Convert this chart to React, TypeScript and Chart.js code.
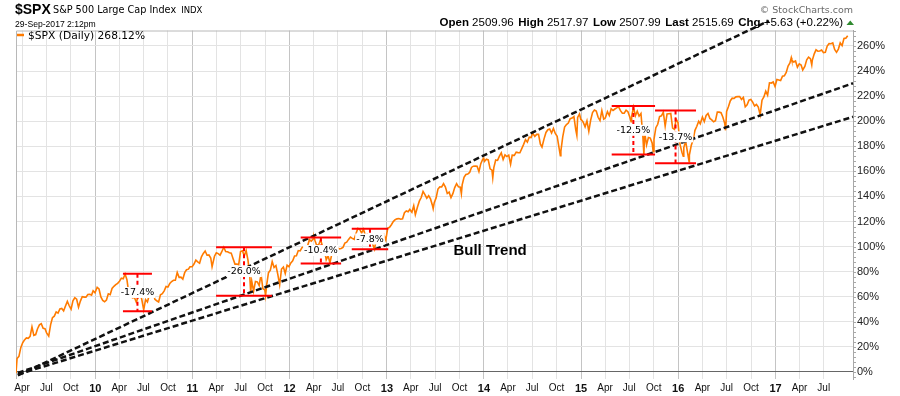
import React, { useEffect, useRef } from "react";
import { Chart, registerables } from "chart.js";

Chart.register(...registerables);

// ---------- data ----------
const START_DATE = "2009-03-09";
const AXIS_END_DATE = "2017-10-19";
const Y_MIN = -5.6;
const Y_MAX = 272.3;

// weekly points (% change since 9-Mar-2009)
const dates2009 = ["03-09","03-13","03-20","03-27","04-03","04-09","04-17","04-24","05-01","05-08","05-15","05-22","05-29","06-05","06-12","06-19","06-26","07-02","07-10","07-17","07-24","07-31","08-07","08-14","08-21","08-28","09-04","09-11","09-18","09-25","10-02","10-09","10-16","10-23","10-30","11-06","11-13","11-20","11-27","12-04","12-11","12-18","12-24","12-31"];
const pct2009 = [-1.0,10.7,12.5,19.4,23.3,25.3,27.2,26.8,28.4,36.0,29.2,29.8,34.5,37.6,38.5,34.8,34.5,31.2,28.6,37.6,43.3,44.5,47.9,46.9,50.2,50.6,48.7,52.6,56.3,52.8,50.0,56.8,59.2,58.0,51.6,56.5,60.0,59.7,59.7,61.8,61.9,61.3,64.8,63.2];

const dates2010 = ["01-08","01-15","01-22","01-29","02-05","02-12","02-19","02-26","03-05","03-12","03-19","03-26","04-02","04-09","04-16","04-23","04-30","05-07","05-14","05-21","05-28","06-04","06-11","06-18","06-25","07-02","07-09","07-16","07-23","07-30","08-06","08-13","08-20","08-27","09-03","09-10","09-17","09-24","10-01","10-08","10-15","10-22","10-29","11-05","11-12","11-19","11-26","12-03","12-10","12-17","12-23","12-31"];
const pct2010 = [67.5,66.2,59.8,57.1,56.0,57.4,62.3,61.6,66.6,68.3,69.7,70.7,72.4,74.8,74.4,78.1,73.6,62.6,66.2,59.2,59.4,55.8,59.7,63.5,57.6,49.6,57.7,55.8,61.4,61.2,64.1,57.9,56.8,55.8,61.6,62.4,64.7,68.1,67.7,70.5,72.1,73.1,73.1,79.4,75.5,75.6,74.0,79.2,81.5,82.0,83.9,84.0];

const dates2011 = ["01-07","01-14","01-21","01-28","02-04","02-11","02-18","02-25","03-04","03-11","03-16","03-25","04-01","04-08","04-15","04-21","04-29","05-06","05-13","05-20","05-27","06-03","06-10","06-17","06-24","07-01","07-08","07-15","07-22","07-29","08-05","08-08","08-12","08-19","08-26","09-02","09-09","09-16","09-23","09-30","10-03","10-07","10-14","10-21","10-28","11-04","11-11","11-18","11-25","12-02","12-09","12-16","12-23","12-30"];
const pct2011 = [86.1,89.2,87.8,86.8,91.8,94.5,96.5,93.1,93.3,90.9,83.9,92.3,95.0,94.4,93.1,95.7,99.5,96.1,95.8,95.1,94.8,90.3,86.0,86.1,85.6,96.0,96.6,92.6,96.8,89.1,75.5,63.8,72.5,64.4,72.2,71.8,68.9,77.9,66.3,65.6,60.9,69.1,79.2,81.2,88.0,83.4,84.9,77.9,69.5,82.1,83.7,78.5,85.2,84.0];

const dates2012 = ["01-06","01-13","01-20","01-27","02-03","02-10","02-17","02-24","03-02","03-09","03-16","03-23","03-30","04-02","04-06","04-13","04-20","04-27","05-04","05-11","05-18","05-25","06-01","06-08","06-15","06-22","06-29","07-06","07-13","07-20","07-27","08-03","08-10","08-17","08-24","08-31","09-07","09-14","09-21","09-28","10-05","10-12","10-19","10-26","11-02","11-09","11-15","11-23","11-30","12-07","12-14","12-21","12-28"];
const pct2012 = [87.0,88.6,92.5,92.6,96.8,96.5,99.2,99.9,100.4,100.6,105.5,104.4,106.1,107.6,104.6,100.5,101.7,105.4,100.3,98.0,89.5,92.8,87.0,94.0,96.5,95.4,99.3,98.2,98.5,99.4,102.8,103.5,105.7,107.5,106.5,105.8,110.4,114.5,113.7,110.8,113.8,109.0,109.7,106.6,106.9,101.9,98.0,106.2,107.2,107.5,106.8,109.3,105.2];

const dates2013 = ["01-04","01-11","01-18","01-25","02-01","02-08","02-15","02-22","03-01","03-08","03-15","03-22","03-28","04-05","04-12","04-18","04-26","05-03","05-10","05-17","05-24","05-31","06-07","06-14","06-21","06-24","06-28","07-05","07-12","07-19","07-26","08-02","08-09","08-16","08-23","08-30","09-06","09-13","09-20","09-27","10-04","10-08","10-11","10-18","10-25","11-01","11-08","11-15","11-22","11-29","12-06","12-13","12-20","12-27","12-31"];
const pct2013 = [114.6,115.4,117.4,119.9,121.4,122.1,122.4,121.8,122.2,127.0,128.4,127.8,129.6,127.3,132.5,125.5,131.5,136.2,139.1,144.0,141.4,138.6,140.5,138.0,133.0,130.2,135.0,138.8,145.9,147.6,147.5,150.2,147.5,142.3,143.4,139.0,142.2,147.0,150.2,147.6,147.4,142.2,149.2,155.3,157.5,157.8,159.1,163.1,164.1,164.2,164.1,159.8,166.1,169.5,170.5];

const dates2014 = ["01-03","01-10","01-17","01-24","01-31","02-03","02-07","02-14","02-21","02-28","03-07","03-14","03-21","03-28","04-04","04-11","04-17","04-25","05-02","05-09","05-16","05-23","05-30","06-06","06-13","06-20","06-27","07-03","07-11","07-18","07-25","08-01","08-07","08-15","08-22","08-29","09-05","09-12","09-19","09-26","10-03","10-10","10-15","10-17","10-24","10-31","11-07","11-14","11-21","11-28","12-05","12-12","12-16","12-19","12-26","12-31"];
const pct2014 = [168.0,169.6,169.1,162.0,160.9,154.9,163.0,169.0,168.7,172.1,174.8,169.4,173.1,171.8,172.9,165.7,172.9,172.7,175.3,174.9,174.8,178.1,181.5,185.3,183.3,187.2,186.9,190.5,187.9,189.5,189.5,181.7,179.4,186.1,191.0,193.2,193.8,190.5,194.2,190.2,188.0,178.9,172.5,176.1,187.5,195.3,197.3,198.5,202.0,202.5,203.7,193.0,188.7,203.0,205.7,201.3];

const dates2015 = ["01-02","01-09","01-16","01-23","01-30","02-06","02-13","02-20","02-27","03-06","03-13","03-20","03-27","04-02","04-10","04-17","04-24","05-01","05-08","05-15","05-21","05-29","06-05","06-12","06-19","06-26","07-02","07-08","07-10","07-17","07-24","07-31","08-07","08-14","08-21","08-25","08-28","09-04","09-11","09-18","09-25","09-29","10-02","10-09","10-16","10-23","10-30","11-06","11-13","11-20","11-27","12-04","12-11","12-18","12-24","12-31"];
const pct2015 = [201.2,199.2,195.5,200.2,191.9,200.8,206.9,208.8,208.0,203.1,200.5,208.5,201.6,202.5,207.6,204.5,209.9,208.5,209.7,210.6,211.8,208.4,206.3,206.4,208.8,207.5,203.9,199.5,203.9,211.2,204.3,207.9,204.0,206.1,188.4,173.3,191.0,181.1,187.0,186.5,182.6,175.7,185.5,194.8,197.5,203.7,204.3,207.2,196.0,205.7,205.9,206.1,194.5,193.5,201.6,199.1];

const dates2016 = ["01-08","01-15","01-20","01-22","01-29","02-05","02-11","02-12","02-19","02-26","03-04","03-11","03-18","03-24","04-01","04-08","04-15","04-22","04-29","05-06","05-13","05-20","05-27","06-03","06-10","06-17","06-24","06-27","07-01","07-08","07-15","07-22","07-29","08-05","08-12","08-19","08-26","09-02","09-09","09-16","09-23","09-30","10-07","10-14","10-21","10-28","11-04","11-11","11-18","11-25","12-02","12-09","12-16","12-23","12-30"];
const pct2016 = [181.3,175.2,172.1,179.0,183.9,175.1,167.6,172.9,180.6,185.1,192.7,195.9,199.9,197.9,203.3,199.6,204.5,206.1,202.2,201.0,199.5,200.3,207.2,207.2,206.7,203.1,198.1,192.7,207.7,211.7,216.3,218.3,218.1,219.4,219.6,219.6,217.4,219.0,211.4,213.0,216.8,217.3,215.2,212.1,213.3,211.2,205.1,216.7,219.3,223.9,220.7,230.6,230.4,231.3,227.6];

const dates2017 = ["01-06","01-13","01-20","01-27","02-03","02-10","02-17","02-24","03-01","03-03","03-10","03-17","03-24","03-31","04-07","04-13","04-21","04-28","05-05","05-12","05-17","05-19","05-26","06-02","06-09","06-16","06-23","06-30","07-07","07-14","07-21","07-28","08-04","08-11","08-18","08-25","09-01","09-08","09-15","09-22","09-29"];
const pct2017 = [233.2,232.9,232.4,235.8,236.2,238.9,244.0,246.4,250.6,248.7,247.2,248.0,243.0,245.7,244.7,240.8,243.7,248.9,251.1,249.9,244.9,248.5,253.5,256.9,255.8,256.0,256.8,254.6,254.9,259.9,261.8,261.7,262.4,257.2,254.9,257.5,262.4,260.2,265.9,266.2,268.1];

const yearBlocks: [number, string[], number[]][] = [
  [2009, dates2009, pct2009], [2010, dates2010, pct2010], [2011, dates2011, pct2011],
  [2012, dates2012, pct2012], [2013, dates2013, pct2013], [2014, dates2014, pct2014],
  [2015, dates2015, pct2015], [2016, dates2016, pct2016], [2017, dates2017, pct2017],
];

// dashed trend lines (start/end in data units)
const trendStartDates = ["2009-03-16", "2009-03-16", "2009-03-16"];
const trendStartPct = [-2.8, -0.8, -2.0];
const trendEndDates = ["2016-12-07", "2017-10-19", "2017-10-19"];
const trendEndPct = [280.0, 230.2, 203.5];

// drawdown brackets
const ddLabels = ["-17.4%", "-26.0%", "-10.4%", "-7.8%", "-12.5%", "-13.7%"];
const ddStartDates = ["2010-04-15", "2011-03-31", "2012-02-12", "2012-08-22", "2015-04-26", "2015-10-06"];
const ddEndDates = ["2010-08-02", "2011-10-27", "2012-07-13", "2013-01-06", "2015-10-06", "2016-03-08"];
const ddTopPct = [78.3, 99.4, 107.2, 114.3, 212.0, 208.6];
const ddBottomPct = [48.5, 60.8, 86.5, 97.8, 173.4, 166.4];

const bullTrendLabel = "Bull Trend";
const bullTrendDate = "2014-01-24";
const bullTrendPct = 96.6;

const yTickValues = [0, 20, 40, 60, 80, 100, 120, 140, 160, 180, 200, 220, 240, 260];
const quarterMonths = [1, 4, 7, 10];
const monthNames: Record<number, string> = { 4: "Apr", 7: "Jul", 10: "Oct" };
const tickYears = [2009, 2010, 2011, 2012, 2013, 2014, 2015, 2016, 2017];

const headerSymbol = "$SPX";
const headerName = "S&P 500 Large Cap Index";
const headerExchange = "INDX";
const headerTimestamp = "29-Sep-2017 2:12pm";
const legendLabel = "$SPX (Daily) 268.12%";
const copyrightText = "\u00A9 StockCharts.com";
const quoteLabels = ["Open", "High", "Low", "Last", "Chg"];
const quoteValues = ["2509.96", "2517.97", "2507.99", "2515.69", "+5.63 (+0.22%)"];

// ---------- styling ----------
const ORANGE = "#ff7b00";
const SANS = "'Liberation Sans', Arial, sans-serif";
const WIDE = "'DejaVu Sans', Verdana, sans-serif";

const DAY_MS = 86400000;
const dayOf = (s: string) =>
  (Date.parse(s + "T00:00:00Z") - Date.parse(START_DATE + "T00:00:00Z")) / DAY_MS;

const spxPoints: { x: number; y: number }[] = [];
for (const [yr, ds, vs] of yearBlocks) {
  const n = Math.min(ds.length, vs.length);
  for (let i = 0; i < n; i++) spxPoints.push({ x: dayOf(`${yr}-${ds[i]}`), y: vs[i] });
}
const lastDataDay = spxPoints[spxPoints.length - 1].x;

const xTicks: { value: number; label: string; year: boolean }[] = [];
for (const y of tickYears) {
  for (const m of quarterMonths) {
    const v = dayOf(`${y}-${String(m).padStart(2, "0")}-01`);
    if (v < 0 || v > lastDataDay) continue;
    xTicks.push({ value: v, label: m === 1 ? String(y).slice(2) : monthNames[m], year: m === 1 });
  }
}
const xTickMap = new Map(xTicks.map((t) => [t.value, t]));
const isYearTick = (v: number) => !!(xTickMap.get(v) && xTickMap.get(v)!.year);

const decorPlugin = {
  id: "decor",
  beforeDatasetsDraw(chart: any) {
    const { ctx, chartArea: a } = chart;
    ctx.save();
    ctx.strokeStyle = "#b8b8b8";
    ctx.lineWidth = 1;
    ctx.beginPath();
    ctx.moveTo(a.left + 0.5, a.bottom);
    ctx.lineTo(a.left + 0.5, a.top + 0.5);
    ctx.lineTo(a.right, a.top + 0.5);
    ctx.stroke();
    const ys = chart.scales.y;
    ctx.strokeStyle = "#a8a8a8";
    for (let v = -4; v <= Y_MAX; v += 4) {
      const py = Math.round(ys.getPixelForValue(v)) + 0.5;
      ctx.beginPath();
      ctx.moveTo(a.right, py);
      ctx.lineTo(a.right + 3, py);
      ctx.stroke();
    }
    ctx.restore();
  },
  afterDatasetsDraw(chart: any) {
    const { ctx } = chart;
    const xs = chart.scales.x;
    const ys = chart.scales.y;
    ctx.save();

    for (let i = 0; i < ddLabels.length; i++) {
      const x1 = xs.getPixelForValue(dayOf(ddStartDates[i]));
      const x2 = xs.getPixelForValue(dayOf(ddEndDates[i]));
      const yt = ys.getPixelForValue(ddTopPct[i]);
      const yb = ys.getPixelForValue(ddBottomPct[i]);
      const xm = (x1 + x2) / 2;
      ctx.strokeStyle = "#ff0000";
      ctx.lineWidth = 2;
      ctx.setLineDash([]);
      ctx.beginPath();
      ctx.moveTo(x1, yt);
      ctx.lineTo(x2, yt);
      ctx.moveTo(x1, yb);
      ctx.lineTo(x2, yb);
      ctx.stroke();
      ctx.setLineDash([4, 3]);
      ctx.beginPath();
      ctx.moveTo(xm, yt);
      ctx.lineTo(xm, yb);
      ctx.stroke();
      ctx.setLineDash([]);
      const ym = (yt + yb) / 2;
      ctx.font = `9.5px ${WIDE}`;
      const w = ctx.measureText(ddLabels[i]).width;
      ctx.fillStyle = "#ffffff";
      ctx.fillRect(xm - w / 2 - 1, ym - 5.5, w + 2, 11);
      ctx.fillStyle = "#000";
      ctx.textAlign = "center";
      ctx.textBaseline = "middle";
      ctx.fillText(ddLabels[i], xm, ym + 0.5);
    }

    ctx.font = `bold 15px ${SANS}`;
    ctx.fillStyle = "#000";
    ctx.textAlign = "center";
    ctx.textBaseline = "middle";
    ctx.fillText(bullTrendLabel, xs.getPixelForValue(dayOf(bullTrendDate)), ys.getPixelForValue(bullTrendPct));

    // legend
    ctx.strokeStyle = ORANGE;
    ctx.lineWidth = 2.5;
    ctx.beginPath();
    ctx.moveTo(17, 35);
    ctx.lineTo(24, 35);
    ctx.stroke();
    ctx.fillStyle = "#000";
    ctx.textAlign = "left";
    ctx.textBaseline = "alphabetic";
    ctx.font = `10.7px ${WIDE}`;
    ctx.fillText(legendLabel, 28, 39);

    // header left
    ctx.font = `bold 14px ${SANS}`;
    ctx.fillText(headerSymbol, 15, 13.5);
    ctx.font = `9.7px ${WIDE}`;
    ctx.fillText(headerName, 53, 13);
    const nameW = ctx.measureText(headerName).width;
    ctx.font = `8.5px ${WIDE}`;
    ctx.fillText(headerExchange, 53 + nameW + 5, 13);
    ctx.font = `8.6px ${SANS}`;
    ctx.fillText(headerTimestamp, 15, 26.5);

    // copyright
    ctx.font = `9.5px ${WIDE}`;
    ctx.fillStyle = "#6a6a6a";
    ctx.textAlign = "right";
    ctx.fillText(copyrightText, 853, 13);

    // quote row
    ctx.textAlign = "left";
    ctx.fillStyle = "#000";
    const pieces: { t: string; bold: boolean; gap: number }[] = [];
    quoteLabels.forEach((l, i) => {
      pieces.push({ t: l, bold: true, gap: 0 });
      pieces.push({ t: " " + quoteValues[i], bold: false, gap: i < quoteLabels.length - 1 ? 4.5 : 0 });
    });
    let total = 0;
    for (const p of pieces) {
      ctx.font = `${p.bold ? "bold " : ""}11.5px ${SANS}`;
      total += ctx.measureText(p.t).width + p.gap;
    }
    let x = 843 - total;
    for (const p of pieces) {
      ctx.font = `${p.bold ? "bold " : ""}11.5px ${SANS}`;
      ctx.fillText(p.t, x, 26);
      x += ctx.measureText(p.t).width + p.gap;
    }
    ctx.fillStyle = "#2f8a2f";
    ctx.beginPath();
    ctx.moveTo(846.5, 25);
    ctx.lineTo(854, 25);
    ctx.lineTo(850.25, 20.5);
    ctx.closePath();
    ctx.fill();

    ctx.restore();
  },
};

export default function App() {
  const canvasRef = useRef<HTMLCanvasElement | null>(null);

  useEffect(() => {
    const canvas = canvasRef.current;
    if (!canvas) return;

    const trendDatasets = trendStartDates.map((s, i) => ({
      label: `trend${i}`,
      data: [
        { x: dayOf(s), y: trendStartPct[i] },
        { x: dayOf(trendEndDates[i]), y: trendEndPct[i] },
      ],
      borderColor: "#111111",
      borderWidth: 2.5,
      borderDash: [6, 3],
      pointRadius: 0,
      clip: false,
      order: 0,
    }));

    const chart = new Chart(canvas, {
      type: "line",
      data: {
        datasets: [
          ...trendDatasets,
          {
            label: legendLabel,
            data: spxPoints,
            borderColor: ORANGE,
            borderWidth: 1.6,
            pointRadius: 0,
            tension: 0,
            order: 1,
          },
        ] as any,
      },
      options: {
        responsive: false,
        animation: false,
        devicePixelRatio: 1,
        layout: { padding: { left: 16, top: 30.5, right: 0, bottom: 0 } },
        plugins: { legend: { display: false }, tooltip: { enabled: false } },
        scales: {
          x: {
            type: "linear",
            min: 0,
            max: dayOf(AXIS_END_DATE),
            afterFit: (s: any) => {
              s.height = 17;
              s.paddingLeft = 0;
              s.paddingRight = 0;
            },
            afterBuildTicks: (s: any) => {
              s.ticks = xTicks.map((t) => ({ value: t.value }));
            },
            ticks: {
              autoSkip: false,
              maxRotation: 0,
              padding: 3,
              color: "#111",
              callback: (v: any) => (xTickMap.get(v) ? xTickMap.get(v)!.label : ""),
              font: (c: any) =>
                c.tick && isYearTick(c.tick.value)
                  ? { family: SANS, size: 11, weight: "bold" }
                  : { family: SANS, size: 10, weight: "normal" },
            },
            grid: {
              drawTicks: false,
              color: (c: any) => (c.tick && isYearTick(c.tick.value) ? "#c4c4c4" : "#e3e3e3"),
            },
            border: { display: false },
          },
          y: {
            type: "linear",
            position: "right",
            min: Y_MIN,
            max: Y_MAX,
            afterFit: (s: any) => {
              s.width = 47;
              s.paddingTop = 0;
              s.paddingBottom = 0;
            },
            afterBuildTicks: (s: any) => {
              s.ticks = yTickValues.map((v) => ({ value: v }));
            },
            ticks: {
              padding: 4,
              color: "#222",
              font: { family: SANS, size: 11 },
              callback: (v: any) => `${v}%`,
            },
            grid: {
              drawTicks: false,
              color: (c: any) => (c.tick && c.tick.value === 0 ? "#666666" : "#e3e3e3"),
            },
            border: { display: true, color: "#a8a8a8" },
          },
        },
      } as any,
      plugins: [decorPlugin],
    });

    return () => chart.destroy();
  }, []);

  return (
    <div style={{ position: "absolute", left: 0, top: 0, width: 900, height: 396, background: "#fff" }}>
      <canvas ref={canvasRef} width={900} height={396} style={{ display: "block", width: 900, height: 396 }} />
    </div>
  );
}
